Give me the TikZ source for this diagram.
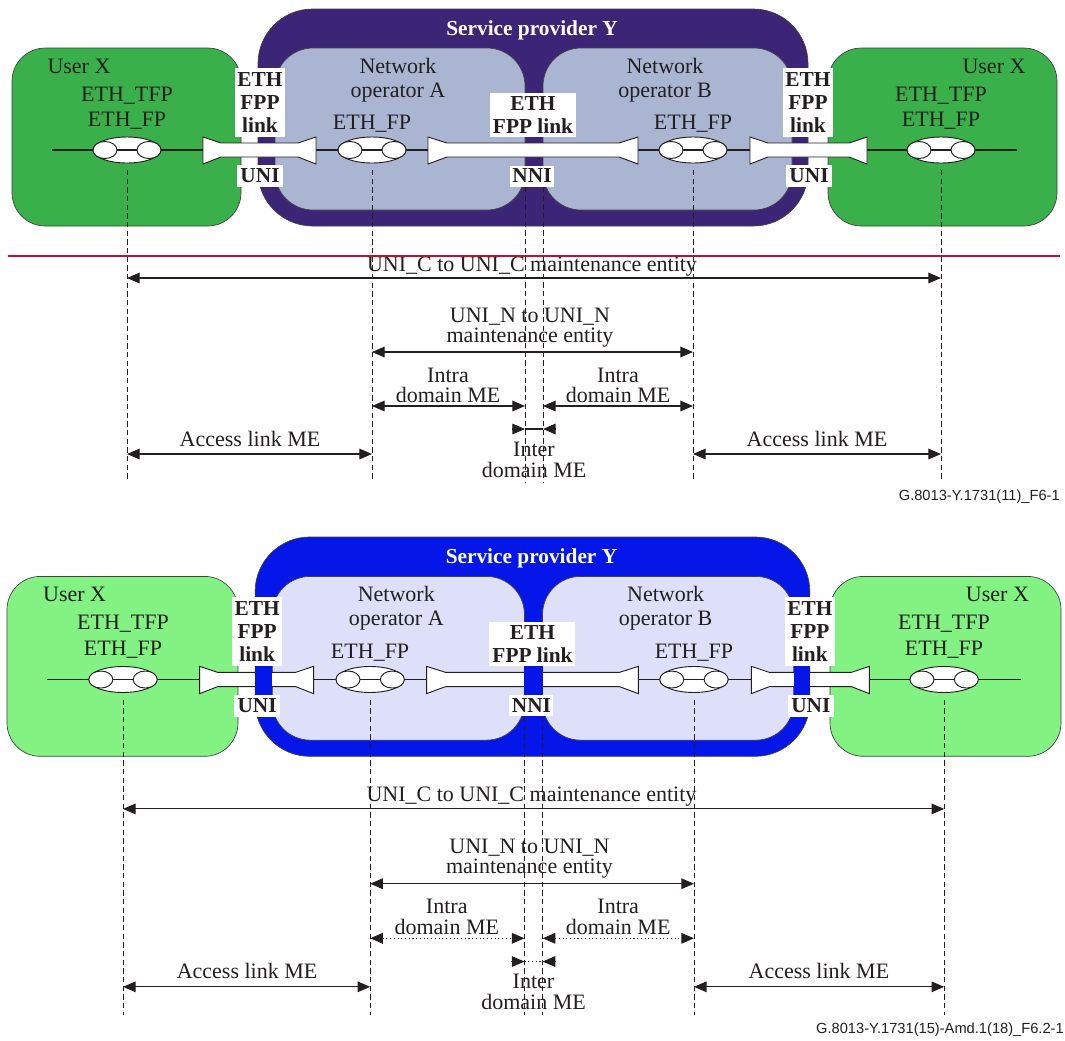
\documentclass[tikz,border=0pt]{standalone}
\usepackage{fontspec}
\setmainfont{Liberation Serif}
\newfontfamily\idfont{Liberation Sans}
\usetikzlibrary{shapes.geometric,arrows.meta}

\definecolor{txt}{HTML}{231F20}
\definecolor{frame}{HTML}{404040}
\definecolor{provA}{RGB}{60,37,119}
\definecolor{userA}{RGB}{57,176,74}
\definecolor{opA}{RGB}{169,181,209}
\definecolor{provB}{RGB}{5,22,232}
\definecolor{userB}{RGB}{130,242,130}
\definecolor{opB}{RGB}{221,224,248}
\definecolor{redc}{RGB}{192,16,52}

\tikzset{
  lbl/.style={anchor=base, inner sep=0pt, text=txt, font=\fontsize{16.5}{18}\selectfont},
  wlbl/.style={anchor=base, inner sep=0pt, text=white, font=\fontsize{16}{18}\selectfont\bfseries},
  wbox/.style={fill=white, inner sep=0pt, align=center, text=txt, font=\fontsize{16}{17.6}\selectfont\bfseries},
  fpoval/.style={ellipse, draw=txt, fill=white, line width=0.7pt, minimum width=51pt, minimum height=19.5pt, inner sep=0pt},
  fpin/.style={ellipse, draw=txt, fill=white, line width=0.7pt, minimum width=18pt, minimum height=12.75pt, inner sep=0pt},
  mainline/.style={draw=txt, line width=0.8pt},
  linkbar/.style={draw=txt, fill=white, line width=0.7pt, line join=miter},
  vdash/.style={draw=txt, line width=0.6pt, dash pattern=on 4pt off 2.5pt},
  meArrow/.style={draw=txt, line width=0.8pt, {Triangle[length=9.5pt,width=8pt]}-{Triangle[length=9.5pt,width=8pt]}},
  halfArrow/.style={draw=txt, line width=0.8pt, -{Triangle[length=9.5pt,width=8pt]}},
  idtext/.style={anchor=base east, inner sep=0pt, text=txt, font=\idfont\fontsize{11}{13}\selectfont},
  boxshape/.style={draw=frame, line width=0.5pt},
}

% one FP oval: name, x
\newcommand{\ituFP}[2]{%
  \node[fpoval] (#1) at (#2,150) {};
  \draw[mainline] (#1.west) -- (#1.east);
  \node[fpin] (#1a) at ([xshift=-16.5pt]#1.center) {};
  \node[fpin] (#1b) at ([xshift=16.5pt]#1.center) {};
  \coordinate (#1d) at (#2,482);
  \draw[vdash, shorten <=5pt] (#1.south) -- (#1d);
}

% provider, user, operator colours, figure id, intra style, strips over bar
\newcommand{\ituFigure}[6]{%
  \filldraw[boxshape, fill=#1, rounded corners=41pt] (258,9) rectangle (808,226);
  \filldraw[boxshape, fill=#3, rounded corners=28.5pt] (275,48) rectangle (525,210);
  \filldraw[boxshape, fill=#3, rounded corners=28.5pt] (543,48) rectangle (792,210);
  \filldraw[boxshape, fill=#2, rounded corners=25pt] (12,48) rectangle (241,226);
  \filldraw[boxshape, fill=#2, rounded corners=25pt] (828,48) rectangle (1057,226);
  \coordinate (lineL) at (52,150);
  \coordinate (lineR) at (1017,150);
  \draw[mainline] (lineL) -- (lineR);
  \draw[linkbar] (203,137) -- (221,143) -- (298,143) -- (316,137) -- (316,164) -- (298,157) -- (221,157) -- (203,164) -- cycle;
  \draw[linkbar] (428,137) -- (447,143) -- (619,143) -- (638,137) -- (638,164) -- (619,157) -- (447,157) -- (428,164) -- cycle;
  \draw[linkbar] (750,137) -- (768,143) -- (849,143) -- (867,137) -- (867,164) -- (849,157) -- (768,157) -- (750,164) -- cycle;
  \ifnum#6=1
    \fill[#1] (258.3,137) rectangle (275,165);
    \fill[#1] (525,137) rectangle (543,165);
    \fill[#1] (792,137) rectangle (807.7,165);
  \fi
  \node[wbox, minimum width=37.5pt, minimum height=51.75pt] (lnkL) at (260,102.5) {ETH\\FPP\\link};
  \node[wbox, minimum width=34.5pt, minimum height=16.5pt] (uniL) at (260,176) {UNI};
  \node[wbox, minimum width=64.5pt, minimum height=33pt] (lnkM) at (533,115) {ETH\\FPP link};
  \node[wbox, minimum width=33pt, minimum height=15.75pt] (nni) at (532,176) {NNI};
  \node[wbox, minimum width=37.5pt, minimum height=51.75pt] (lnkR) at (808,102.5) {ETH\\FPP\\link};
  \node[wbox, minimum width=34.5pt, minimum height=16.5pt] (uniR) at (809,176) {UNI};
  \ituFP{fpU}{127}
  \ituFP{fpA}{372}
  \ituFP{fpB}{693}
  \ituFP{fpV}{941}
  \coordinate (nniAt) at (525,187);
  \coordinate (nniAb) at (525,482);
  \coordinate (nniBt) at (543,187);
  \coordinate (nniBb) at (543,482);
  \draw[vdash] (nniAt) -- (nniAb);
  \draw[vdash] (nniBt) -- (nniBb);
  \node[wlbl] (sp) at (532,35) {Service provider Y};
  \node[lbl] (uxL) at (79,73) {User X};
  \node[lbl] (tfpL) at (127,101) {ETH\_TFP};
  \node[lbl] (efpL) at (127,126) {ETH\_FP};
  \node[lbl] (uxR) at (994,73) {User X};
  \node[lbl] (tfpR) at (941,101) {ETH\_TFP};
  \node[lbl] (efpR) at (941,126) {ETH\_FP};
  \node[lbl] (nwA) at (398,73) {Network};
  \node[lbl] (opAt) at (398,97) {operator A};
  \node[lbl] (nwB) at (665,73) {Network};
  \node[lbl] (opBt) at (665,97) {operator B};
  \node[lbl] (efpA) at (372,129) {ETH\_FP};
  \node[lbl] (efpB) at (693,129) {ETH\_FP};
  % maintenance entities
  \node[lbl] (ucT) at (532,271) {UNI\_C to UNI\_C maintenance entity};
  \coordinate (ucL) at (127,278);
  \coordinate (ucR) at (941,278);
  \draw[meArrow] (ucL) -- (ucR);
  \node[lbl] (unT1) at (530,322) {UNI\_N to UNI\_N};
  \node[lbl] (unT2) at (530,342) {maintenance entity};
  \coordinate (unL) at (372,352);
  \coordinate (unR) at (693,352);
  \draw[meArrow] (unL) -- (unR);
  \node[lbl] (iaT1) at (448,382) {Intra};
  \node[lbl] (iaT2) at (448,402) {domain ME};
  \coordinate (iaL) at (372,406);
  \coordinate (iaR) at (525,406);
  \draw[meArrow, #5] (iaL) -- (iaR);
  \node[lbl] (ibT1) at (618,382) {Intra};
  \node[lbl] (ibT2) at (618,402) {domain ME};
  \coordinate (ibL) at (543,406);
  \coordinate (ibR) at (693,406);
  \draw[meArrow, #5] (ibL) -- (ibR);
  \coordinate (ieL) at (525,429);
  \coordinate (ieR) at (543,429);
  \coordinate (ieLo) at (512,429);
  \coordinate (ieRo) at (556,429);
  \draw[mainline, #5] (ieL) -- (ieR);
  \draw[halfArrow] (ieLo) -- (ieL);
  \draw[halfArrow] (ieRo) -- (ieR);
  \node[lbl] (ieT1) at (534,456) {Inter};
  \node[lbl] (ieT2) at (534,477) {domain ME};
  \node[lbl] (alT) at (250,446) {Access link ME};
  \coordinate (alL) at (127,454);
  \coordinate (alR) at (372,454);
  \draw[meArrow] (alL) -- (alR);
  \node[lbl] (arT) at (817,446) {Access link ME};
  \coordinate (arL) at (693,454);
  \coordinate (arR) at (941,454);
  \draw[meArrow] (arL) -- (arR);
  \node[idtext] (figid) at (1060,500) {#4};
}

\begin{document}
\begin{tikzpicture}[x=0.75pt, y=-0.75pt]
  \useasboundingbox (0,0) rectangle (1065,1040);
  \begin{scope}[name prefix=t-]
    \ituFigure{provA}{userA}{opA}{G.8013-Y.1731(11)\_F6-1}{solid}{0}
  \end{scope}
  \coordinate (redL) at (8,256);
  \coordinate (redR) at (1060,256);
  \draw[redc, line width=1.2pt] (redL) -- (redR);
  \begin{scope}[name prefix=b-, shift={(-5.1,527.9)}, xscale=1.0086, yscale=1.0106]
    \ituFigure{provB}{userB}{opB}{G.8013-Y.1731(15)-Amd.1(18)\_F6.2-1}{dotted}{1}
  \end{scope}
\end{tikzpicture}
\end{document}
